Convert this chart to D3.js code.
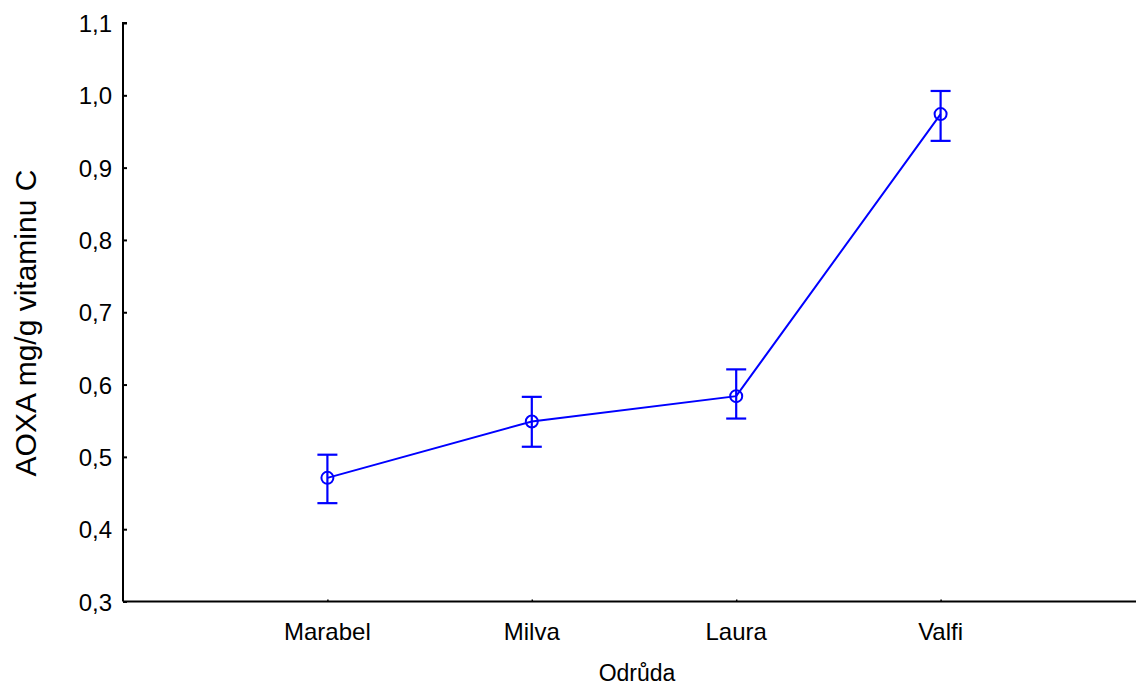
<!DOCTYPE html>
<html>
<head>
<meta charset="utf-8">
<script src="https://cdn.jsdelivr.net/npm/d3@7"></script>
<style>
  html, body { margin: 0; padding: 0; background: #fff; }
  svg { display: block; font-family: "Liberation Sans", Arial, sans-serif; }
</style>
</head>
<body>
<svg id="chart" width="1136" height="686"></svg>
<script>
// Varieties and mean AOXA (mg/g vitamin C) with confidence limits
const categories = ["Marabel", "Milva", "Laura", "Valfi"];
const means = [0.471, 0.549, 0.584, 0.974];
const lower = [0.436, 0.514, 0.553, 0.937];
const upper = [0.503, 0.583, 0.621, 1.006];
const yTicks = [0.3, 0.4, 0.5, 0.6, 0.7, 0.8, 0.9, 1.0, 1.1];

const svg = d3.select("#chart");
const plotLeft = 123, plotTop = 23, plotBottom = 601.5;

// Positions 0..5: categories sit at 1..4, with one empty slot on either side
const x = d3.scaleLinear().domain([0, 5]).range([plotLeft, plotLeft + 5 * 204.4]);
const y = d3.scaleLinear().domain([0.3, 1.1]).range([plotBottom, plotTop]);
const fmt = d => d3.format(".1f")(d).replace(".", ",");

// Y axis with inward ticks
const yAxis = svg.append("g").attr("transform", `translate(${plotLeft},0)`)
  .call(d3.axisRight(y).tickValues(yTicks).tickSize(4).tickFormat(""));
yAxis.select(".domain").attr("d", `M4,${plotTop}H0V${plotBottom}`).attr("stroke", "#000").attr("stroke-width", 2);
yAxis.selectAll(".tick line").attr("stroke", "#000").attr("stroke-width", 2);
svg.append("g").selectAll("text").data(yTicks).join("text")
  .attr("x", plotLeft - 11).attr("y", d => y(d) + 9)
  .attr("text-anchor", "end").attr("font-size", 24).attr("fill", "#000")
  .text(fmt);

// X axis
const xAxis = svg.append("g").attr("transform", `translate(0,${plotBottom})`)
  .call(d3.axisTop(x).tickValues([1, 2, 3, 4]).tickSize(2).tickFormat(""));
xAxis.select(".domain").attr("d", `M${plotLeft},0H${x(5)}`).attr("stroke", "#000").attr("stroke-width", 2);
xAxis.selectAll(".tick line").attr("stroke", "#000").attr("stroke-width", 1.5);
svg.append("g").selectAll("text").data(categories).join("text")
  .attr("x", (d, i) => x(i + 1)).attr("y", 640)
  .attr("text-anchor", "middle").attr("font-size", 24).attr("fill", "#000")
  .text(d => d);

// Axis titles
svg.append("text").attr("x", 637).attr("y", 681)
  .attr("text-anchor", "middle").attr("font-size", 23).attr("fill", "#000")
  .text("Odrůda");
svg.append("text").attr("transform", `translate(36,323) rotate(-90)`)
  .attr("text-anchor", "middle").attr("font-size", 30).attr("fill", "#000")
  .text("AOXA mg/g vitaminu C");

const blue = "#0000ff";
const pts = categories.map((c, i) => ({ i: i + 1, m: means[i], lo: lower[i], hi: upper[i] }));

// Connecting line
svg.append("path").datum(pts)
  .attr("fill", "none").attr("stroke", blue).attr("stroke-width", 2)
  .attr("d", d3.line().x(d => x(d.i)).y(d => y(d.m)));

// Error bars
const eb = svg.append("g").attr("stroke", blue).attr("stroke-width", 2.2).attr("fill", "none");
eb.selectAll(".v").data(pts).join("line").attr("class", "v")
  .attr("x1", d => x(d.i)).attr("x2", d => x(d.i))
  .attr("y1", d => y(d.lo)).attr("y2", d => y(d.hi));
eb.selectAll(".capHi").data(pts).join("line").attr("class", "capHi")
  .attr("x1", d => x(d.i) - 10).attr("x2", d => x(d.i) + 10)
  .attr("y1", d => y(d.hi)).attr("y2", d => y(d.hi));
eb.selectAll(".capLo").data(pts).join("line").attr("class", "capLo")
  .attr("x1", d => x(d.i) - 10).attr("x2", d => x(d.i) + 10)
  .attr("y1", d => y(d.lo)).attr("y2", d => y(d.lo));

// Open circle markers
svg.append("g").selectAll("circle").data(pts).join("circle")
  .attr("cx", d => x(d.i)).attr("cy", d => y(d.m)).attr("r", 6)
  .attr("fill", "none").attr("stroke", blue).attr("stroke-width", 2);
</script>
</body>
</html>
